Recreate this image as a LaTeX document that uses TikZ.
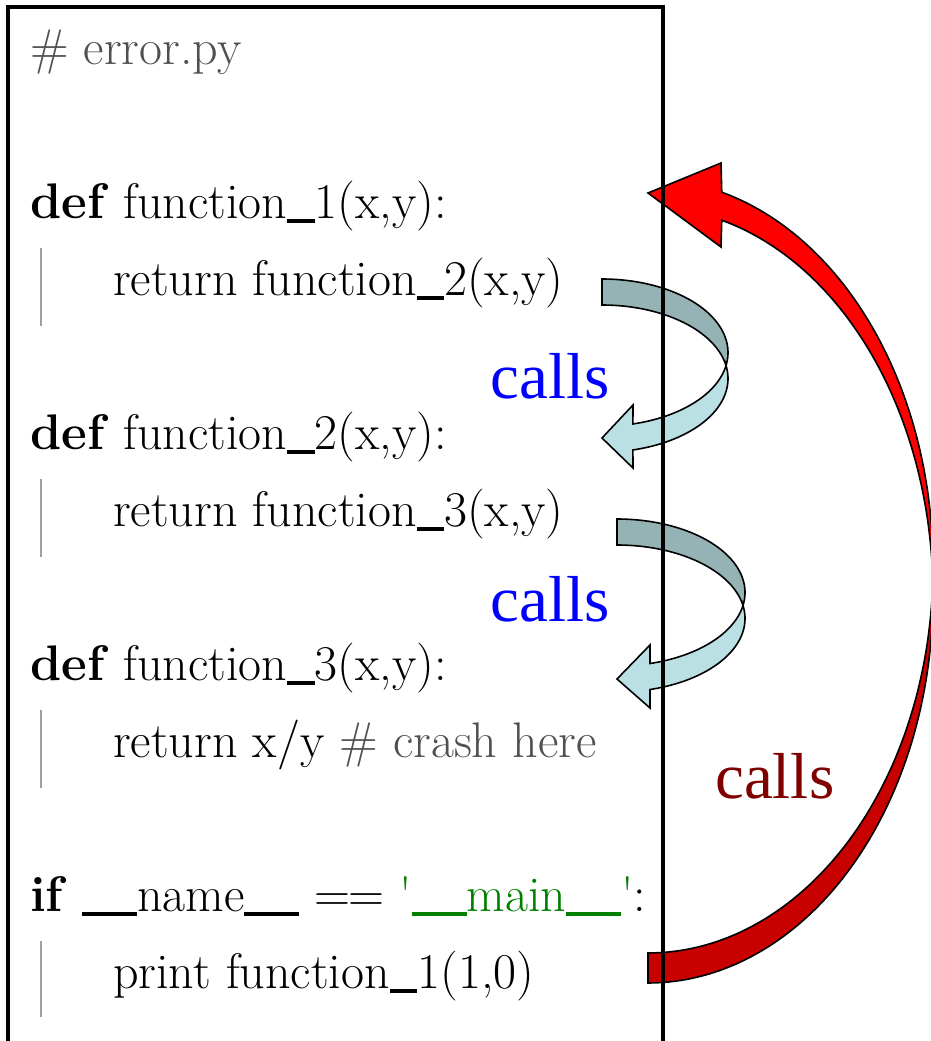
\documentclass[tikz,border=0pt]{standalone}
\usepackage{fontspec}
\newfontfamily\callsfont{Liberation Serif}
\newcommand{\usc}{\rule[-0.09em]{0.55em}{0.075em}}
\definecolor{cgray}{RGB}{80,80,80}
\definecolor{bargray}{RGB}{160,160,160}
\definecolor{cgreen}{RGB}{0,128,0}
\definecolor{cblue}{RGB}{0,0,255}
\definecolor{cdred}{RGB}{128,0,0}
\definecolor{tealdark}{RGB}{149,179,181}
\definecolor{teallight}{RGB}{186,224,228}
\definecolor{redbright}{RGB}{255,0,0}
\definecolor{reddark}{RGB}{200,0,0}
\begin{document}
\begin{tikzpicture}[x=1pt,y=-1pt,
  code/.style={anchor=base west, inner sep=0pt, font=\fontsize{50}{54}\selectfont},
  lbl/.style={inner sep=0pt, font=\callsfont\fontsize{65}{70}\selectfont},
  outl/.style={draw=black, line width=1.6pt, line join=miter},
  bar/.style={draw=bargray, line width=2.2pt},
  frame/.style={draw=black, line width=3.6pt}]
\clip (0,0) rectangle (931,1041);

% ---- red curved arrow (back part, dark) ----
\draw[outl, fill=reddark]
  plot[domain=90:2.1, samples=70] ({648+285*cos(\x)},{566+387*sin(\x)})
  -- plot[domain=-2.1:90, samples=70] ({648+285*cos(\x)},{595+388*sin(\x)})
  -- cycle;
% ---- red curved arrow (front part, bright, with head) ----
\draw[outl, fill=redbright]
  plot[domain=2.1:-75, samples=70] ({648+285*cos(\x)},{566+387*sin(\x)})
  -- (721,163) coordinate (rbarb1) -- (648,193) coordinate (rtip) -- (721,247) coordinate (rbarb2)
  -- plot[domain=-75:-2.1, samples=70] ({648+285*cos(\x)},{595+388*sin(\x)})
  -- cycle;

% ---- teal arrow 1 ----
\draw[outl, fill=tealdark]
  plot[domain=-90:10.2, samples=50] ({602+126*cos(\x)},{352.6+73.6*sin(\x)})
  -- plot[domain=-10.2:-90, samples=50] ({602+126*cos(\x)},{378.6+73.6*sin(\x)})
  -- cycle;
\draw[outl, fill=teallight]
  plot[domain=10.2:75.8, samples=50] ({602+126*cos(\x)},{352.6+73.6*sin(\x)})
  -- (633,405) -- (602,438) coordinate (t1tip) -- (633,468)
  -- plot[domain=75.8:-10.2, samples=50] ({602+126*cos(\x)},{378.6+73.6*sin(\x)})
  -- cycle;

% ---- teal arrow 2 ----
\draw[outl, fill=tealdark]
  plot[domain=-90:10.2, samples=50] ({617+128*cos(\x)},{592.5+73.5*sin(\x)})
  -- plot[domain=-10.2:-90, samples=50] ({617+128*cos(\x)},{618.5+73.5*sin(\x)})
  -- cycle;
\draw[outl, fill=teallight]
  plot[domain=10.2:75.06, samples=50] ({617+128*cos(\x)},{592.5+73.5*sin(\x)})
  -- (650,645) -- (617,679) coordinate (t2tip) -- (650,708)
  -- plot[domain=75.06:-10.2, samples=50] ({617+128*cos(\x)},{618.5+73.5*sin(\x)})
  -- cycle;

% ---- frame ----
\draw[frame] (8,1060) -- (8,7) -- (663,7) -- (663,1060);

% ---- indentation bars ----
\draw[bar] (41,248) -- (41,326);
\draw[bar] (41,479) -- (41,557);
\draw[bar] (41,710) -- (41,788);
\draw[bar] (41,941) -- (41,1017);

% ---- code ----
\node[code, text=cgray] (hdr) at (30,65) {\# error.py};
\node[code] (def1) at (30,218) {\textbf{def} function\usc 1(x,y):};
\node[code] (ret1) at (113,295) {return function\usc 2(x,y)};
\node[code] (def2) at (30,449) {\textbf{def} function\usc 2(x,y):};
\node[code] (ret2) at (113,526) {return function\usc 3(x,y)};
\node[code] (def3) at (30,680) {\textbf{def} function\usc 3(x,y):};
\node[code] (ret3) at (113,757) {return x/y {\color{cgray}\# crash here}};
\node[code] (ifm) at (30,911) {\textbf{if} \usc\usc name\usc\usc{} =\kern-0.05em= {\color{cgreen}\textquotesingle\usc\usc main\usc\usc\textquotesingle}:};
\node[code] (prt) at (113,988) {print function\usc 1(1,0)};

% ---- labels ----
\node[lbl, text=cblue, anchor=base east] (calls1) at (610,398) {calls};
\node[lbl, text=cblue, anchor=base east] (calls2) at (610,621) {calls};
\node[lbl, text=cdred, anchor=base west] (calls3) at (715,798) {calls};
\end{tikzpicture}
\end{document}
